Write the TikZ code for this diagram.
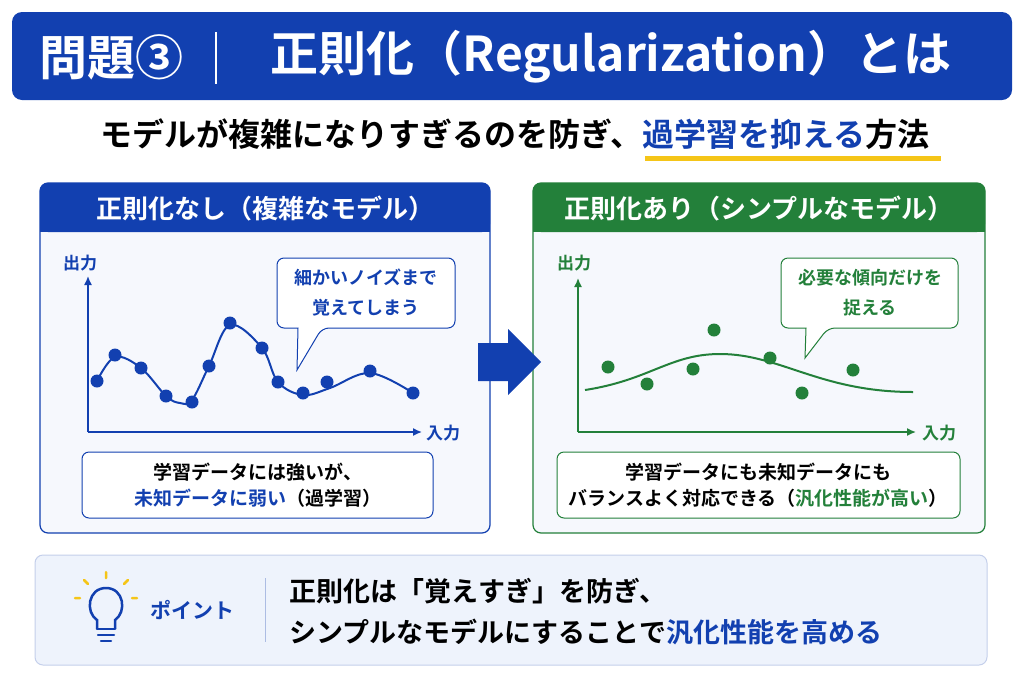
\documentclass[tikz,border=0pt]{standalone}
\usepackage{fontspec}
\setmainfont{Noto Sans CJK JP}[BoldFont={Noto Sans CJK JP Bold}]
\usetikzlibrary{shapes.arrows,arrows.meta}
\definecolor{mblue}{HTML}{1240B0}
\definecolor{mgreen}{HTML}{23803A}
\definecolor{lbg}{HTML}{F6F8FD}
\definecolor{pbg}{HTML}{EEF3FC}
\definecolor{ylw}{HTML}{F5C518}
\begin{document}
\begin{tikzpicture}[x=1pt,y=-1pt,font=\bfseries,
  panel/.style={draw=#1,line width=1.2pt,rounded corners=8pt,fill=lbg},
  tbox/.style={draw=#1,line width=1pt,rounded corners=7pt,fill=white},
  dot/.style={circle,fill=#1,inner sep=0pt,minimum size=13pt},
  ax/.style={draw=#1,line width=1.5pt,-{Latex[length=9pt,width=8pt]}},
  lbl/.style={text=#1,font=\bfseries\fontsize{17}{19}\selectfont}]
\useasboundingbox (0,0) rectangle (1024,683);
\fill[white] (0,0) rectangle (1024,683);
% title
\fill[mblue,rounded corners=10pt] (12,12) rectangle (1012,100);
\node[text=white,font=\bfseries\fontsize{48}{50}\selectfont] (t1) at (111,57) {問題③};
\draw[white,line width=1.5pt] (216,32) -- (216,84);
\node[text=white,font=\bfseries\fontsize{48}{50}\selectfont] (t2) at (611,57) {正則化（Regularization）とは};
% subtitle
\fill[ylw] (645,156) rectangle (941,161);
\node[font=\bfseries\fontsize{32}{34}\selectfont] (sub) at (515,134) {モデルが複雑になりすぎるのを防ぎ、\textcolor{mblue}{過学習を抑える}方法};
% panels
\draw[panel=mblue] (40,183) rectangle (490,533);
\fill[mblue,rounded corners=8pt] (40,183) rectangle (490,232);
\fill[mblue] (40,215) rectangle (490,232);
\node[text=white,font=\bfseries\fontsize{26}{28}\selectfont] (h1) at (265,208) {正則化なし（複雑なモデル）};
\draw[panel=mgreen] (533,183) rectangle (985,533);
\fill[mgreen,rounded corners=8pt] (533,183) rectangle (985,232);
\fill[mgreen] (533,215) rectangle (985,232);
\node[text=white,font=\bfseries\fontsize{26}{28}\selectfont] (h2) at (759,208) {正則化あり（シンプルなモデル）};
% big arrow
\fill[mblue] (478,343) -- (508,343) -- (508,329) -- (541,362) -- (508,395) -- (508,381) -- (478,381) -- cycle;
% left chart
\coordinate (lo) at (88,432);
\coordinate (ly) at (88,276);
\coordinate (lx) at (422,432);
\draw[ax=mblue] (lo) -- (ly);
\draw[ax=mblue] (lo) -- (lx);
\node[lbl=mblue] (l1) at (80,263) {出力};
\node[lbl=mblue] (l2) at (443,433) {入力};
\draw[mblue,line width=2pt] plot[smooth,tension=0.6] coordinates {(97,381) (115,357) (141,368) (166,396) (180,403) (192,400) (209,366) (230,325) (262,348) (278,382) (303,395) (330,388) (370,373) (413,393)};
\foreach \p [count=\i] in {(97,381),(115,355),(141,368),(166,396),(192,402),(209,366),(230,323),(262,348),(278,382),(303,393),(327,382),(370,371),(413,393)}
  \node[dot=mblue] (ld\i) at \p {};
\draw[mblue,line width=1pt,fill=white,rounded corners=7pt] (277,258) -- (455,258) -- (455,328) -- (322,328) [sharp corners]-- (297,370) -- (298,328) [rounded corners=7pt]-- (277,328) -- cycle;
\node[text=mblue,align=center,font=\bfseries\fontsize{18}{30}\selectfont] (c1) at (366,293) {細かいノイズまで\\覚えてしまう};
\draw[tbox=mblue] (82,452) rectangle (433,518);
\node[align=center,font=\bfseries\fontsize{19}{26}\selectfont] (b1) at (258,485) {学習データには強いが、\\\textcolor{mblue}{未知データに弱い}（過学習）};
% right chart
\coordinate (ro) at (578,432);
\coordinate (ry) at (578,278);
\coordinate (rx) at (916,432);
\draw[ax=mgreen] (ro) -- (ry);
\draw[ax=mgreen] (ro) -- (rx);
\node[lbl=mgreen] (r1) at (574,263) {出力};
\node[lbl=mgreen] (r2) at (939,433) {入力};
\draw[mgreen,line width=2pt] (585,390) .. controls (650,380) and (670,354) .. (720,354) .. controls (780,354) and (820,392) .. (913,392);
\foreach \p [count=\i] in {(608,367),(647,384),(693,369),(714,330),(770,358),(802,393),(853,370)}
  \node[dot=mgreen] (rd\i) at \p {};
\draw[mgreen,line width=1pt,fill=white,rounded corners=7pt] (781,258) -- (958,258) -- (958,328) -- (828,328) [sharp corners]-- (805,358) -- (806,328) [rounded corners=7pt]-- (781,328) -- cycle;
\node[text=mgreen,align=center,font=\bfseries\fontsize{18}{30}\selectfont] (c2) at (870,293) {必要な傾向だけを\\捉える};
\draw[tbox=mgreen] (557,452) rectangle (960,518);
\node[align=center,font=\bfseries\fontsize{19}{26}\selectfont] (b2) at (758,485) {学習データにも未知データにも\\バランスよく対応できる（\textcolor{mgreen}{汎化性能が高い}）};
% bottom
\draw[draw=mblue!25,fill=pbg,line width=1pt,rounded corners=8pt] (35,555) rectangle (987,665);
% bulb
\draw[mblue,line width=2.5pt] (97,629) -- (97,620) .. controls (85,612) and (88,588) .. (106,588) .. controls (124,588) and (127,612) .. (115,620) -- (115,629);
\draw[mblue,line width=2.5pt,line cap=round] (97,629) -- (115,629) (98,635) -- (114,635) (101,641) -- (111,641);
\draw[ylw,line width=2.5pt,line cap=round] (106,578) -- (106,572) (88,584) -- (84,580) (124,584) -- (128,580) (80,598) -- (75,598) (132,598) -- (137,598);
\node[text=mblue,font=\bfseries\fontsize{21}{23}\selectfont] (pt) at (192,610) {ポイント};
\draw[mblue!35,line width=1pt] (265,578) -- (265,642);
\node[anchor=west,font=\bfseries\fontsize{27}{29}\selectfont] (m1) at (286,591) {正則化は「覚えすぎ」を防ぎ、};
\node[anchor=west,font=\bfseries\fontsize{27}{29}\selectfont] (m2) at (286,632) {シンプルなモデルにすることで\textcolor{mblue}{汎化性能を高める}};
\end{tikzpicture}
\end{document}
